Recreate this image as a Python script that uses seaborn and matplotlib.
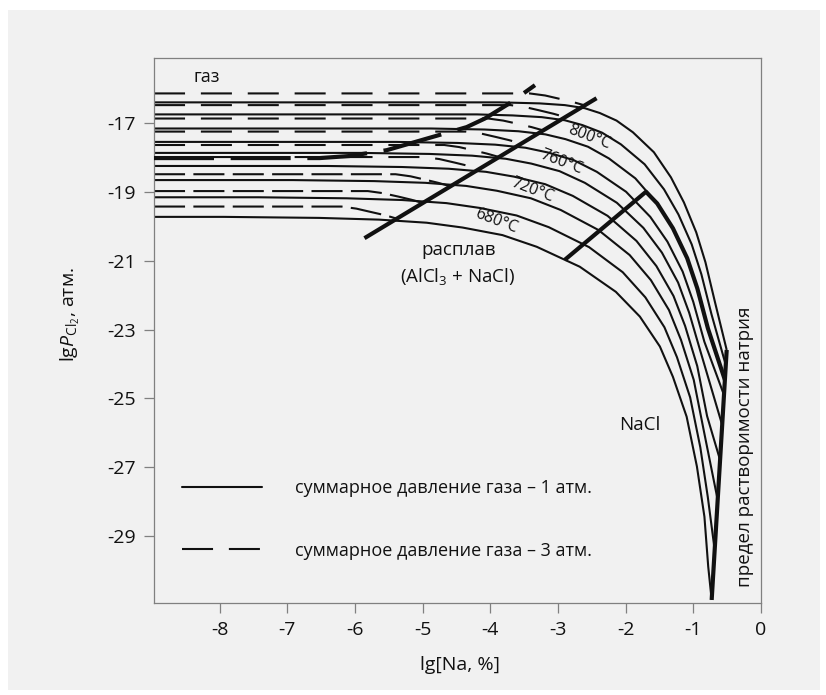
import matplotlib
matplotlib.use("Agg")
import matplotlib.pyplot as plt
import seaborn as sns
from matplotlib.lines import Line2D
from matplotlib.patches import Rectangle

sns.set_style("ticks")
plt.rcParams["font.family"] = ["Open Sans", "DejaVu Sans"]
plt.rcParams["mathtext.fontset"] = "custom"
plt.rcParams["mathtext.rm"] = "Open Sans"
plt.rcParams["mathtext.it"] = "Open Sans:italic"
plt.rcParams["axes.unicode_minus"] = False

INK = "#111111"
GRAY = "#f1f1f1"
SPINE = "#808080"

# ---------------- data ----------------
x_ticks = [-8, -7, -6, -5, -4, -3, -2, -1, 0]
y_ticks = [-17, -19, -21, -23, -25, -27, -29]

# solid curves: total gas pressure 1 atm (bottom -> top)
s0_x = [-8.97, -7.941, -6.528, -5.645, -4.941, -4.411, -3.821, -3.314, -2.678, -2.145, -1.790, -1.494, -1.302, -1.099, -0.947, -0.836, -0.780, -0.729]
s0_y = [-19.72, -19.72, -19.75, -19.80, -19.89, -20.03, -20.25, -20.59, -21.17, -21.90, -22.62, -23.49, -24.37, -25.53, -26.98, -28.44, -29.89, -30.86]
s1_x = [-8.97, -7.432, -6.121, -5.302, -4.649, -4.157, -3.611, -3.136, -2.541, -2.043, -1.709, -1.427, -1.242, -1.047, -0.897, -0.786, -0.685]
s1_y = [-19.15, -19.15, -19.18, -19.23, -19.32, -19.46, -19.68, -20.02, -20.60, -21.33, -22.06, -22.93, -23.80, -24.97, -26.42, -27.87, -29.40]
s2_x = [-8.97, -6.923, -5.714, -4.959, -4.357, -3.904, -3.400, -2.959, -2.404, -1.941, -1.627, -1.360, -1.182, -0.994, -0.847, -0.640]
s2_y = [-18.65, -18.65, -18.68, -18.73, -18.82, -18.96, -19.18, -19.52, -20.10, -20.83, -21.56, -22.43, -23.30, -24.46, -25.92, -27.95]
s3_x = [-8.97, -6.413, -5.307, -4.616, -4.065, -3.650, -3.189, -2.781, -2.267, -1.840, -1.546, -1.293, -1.122, -0.942, -0.797, -0.605]
s3_y = [-18.24, -18.24, -18.27, -18.32, -18.41, -18.55, -18.77, -19.11, -19.69, -20.42, -21.15, -22.02, -22.89, -24.06, -25.51, -26.79]
s4_x = [-8.97, -5.899, -4.897, -4.271, -3.772, -3.396, -2.978, -2.603, -2.130, -1.738, -1.464, -1.225, -1.061, -0.889, -0.574]
s4_y = [-17.86, -17.86, -17.89, -17.94, -18.03, -18.17, -18.39, -18.73, -19.31, -20.04, -20.76, -21.63, -22.51, -23.67, -25.77]
s5_x = [-8.97, -5.389, -4.490, -3.928, -3.480, -3.143, -2.768, -2.426, -1.994, -1.636, -1.383, -1.158, -1.001, -0.837, -0.547]
s5_y = [-17.54, -17.54, -17.57, -17.62, -17.71, -17.85, -18.07, -18.41, -18.99, -19.72, -20.44, -21.31, -22.19, -23.35, -24.90]
s6_x = [-8.97, -4.880, -4.083, -3.585, -3.188, -2.889, -2.557, -2.248, -1.857, -1.534, -1.302, -1.091, -0.941, -0.785, -0.534]
s6_y = [-17.15, -17.15, -17.18, -17.23, -17.32, -17.46, -17.68, -18.02, -18.60, -19.33, -20.05, -20.92, -21.80, -22.96, -24.46]
s7_x = [-8.97, -4.200, -3.670, -3.240, -2.900, -2.640, -2.350, -2.071, -1.720, -1.433, -1.220, -1.024, -0.881, -0.732, -0.520]
s7_y = [-16.74, -16.74, -16.77, -16.82, -16.91, -17.05, -17.27, -17.61, -18.19, -18.92, -19.65, -20.52, -21.39, -22.55, -24.03]
s8_x = [-8.97, -3.861, -3.269, -2.899, -2.604, -2.382, -2.135, -1.893, -1.583, -1.331, -1.139, -0.957, -0.821, -0.680, -0.507]
s8_y = [-16.39, -16.39, -16.42, -16.47, -16.56, -16.70, -16.92, -17.26, -17.84, -18.57, -19.30, -20.17, -21.04, -22.20, -23.59]

# dashed curves: total gas pressure 3 atm (bottom -> top)
d0_x = [-8.97, -6.20, -5.98, -5.76, -5.56, -5.385]
d0_y = [-19.42, -19.42, -19.48, -19.58, -19.67, -19.77]
d1_x = [-8.97, -5.81, -5.59, -5.36, -5.17, -4.99]
d1_y = [-18.97, -18.97, -19.03, -19.13, -19.22, -19.32]
d2_x = [-8.97, -5.40, -5.18, -4.96, -4.77, -4.59]
d2_y = [-18.48, -18.48, -18.54, -18.64, -18.73, -18.83]
d3_x = [-8.97, -4.98, -4.75, -4.53, -4.34, -4.16]
d3_y = [-17.98, -17.98, -18.04, -18.14, -18.23, -18.33]
d4_x = [-8.97, -4.68, -4.46, -4.24, -4.05, -3.87]
d4_y = [-17.63, -17.63, -17.69, -17.79, -17.88, -17.98]
d5_x = [-8.97, -4.36, -4.13, -3.91, -3.72, -3.54]
d5_y = [-17.24, -17.24, -17.30, -17.40, -17.49, -17.59]
d6_x = [-8.97, -4.03, -3.81, -3.58, -3.39, -3.21]
d6_y = [-16.86, -16.86, -16.92, -17.02, -17.11, -17.21]
d7_x = [-8.97, -3.70, -3.48, -3.26, -3.07, -2.89]
d7_y = [-16.47, -16.47, -16.53, -16.63, -16.72, -16.82]
d8_x = [-8.97, -3.42, -3.19, -2.97, -2.78, -2.60]
d8_y = [-16.13, -16.13, -16.19, -16.29, -16.38, -16.48]

# thick boundary lines
bndA_x = [-5.86, -2.43]
bndA_y = [-20.34, -16.27]
bndB_x = [-8.97, -6.52, -6.08, -5.53, -4.35, -4.08, -3.71, -3.34]
bndB_y = [-18.01, -18.01, -17.95, -17.78, -17.11, -16.86, -16.41, -15.89]
bndC_x = [-2.90, -1.70, -1.534, -1.302, -1.091, -0.941, -0.785, -0.534]
bndC_y = [-20.97, -18.99, -19.33, -20.05, -20.92, -21.80, -22.96, -24.46]
bndD_x = [-0.507, -0.729]
bndD_y = [-23.59, -30.86]

temp_labels = ["680°C", "720°C", "760°C", "800°C"]
temp_x = [-3.91, -3.383, -2.948, -2.53]
temp_y = [-19.86, -18.94, -18.116, -17.39]

legend_labels = ["суммарное давление газа – 1 атм.",
                 "суммарное давление газа – 3 атм."]

solid = [(s0_x, s0_y), (s1_x, s1_y), (s2_x, s2_y), (s3_x, s3_y), (s4_x, s4_y),
         (s5_x, s5_y), (s6_x, s6_y), (s7_x, s7_y), (s8_x, s8_y)]
dashed = [(d0_x, d0_y), (d1_x, d1_y), (d2_x, d2_y), (d3_x, d3_y), (d4_x, d4_y),
          (d5_x, d5_y), (d6_x, d6_y), (d7_x, d7_y), (d8_x, d8_y)]

# ---------------- figure ----------------
fig = plt.figure(figsize=(8.26, 6.95), dpi=100)
fig.patch.set_facecolor("white")
fig.patches.append(Rectangle((8 / 826, 5 / 695), 812 / 826, 680 / 695,
                             transform=fig.transFigure, facecolor=GRAY,
                             edgecolor="none", zorder=-10))
ax = fig.add_axes([154 / 826, (695 - 602.7) / 695, 607 / 826, 544.7 / 695])
ax.set_facecolor(GRAY)

THIN = 1.5
THICK = 3.0


def draw(x, y, lw, dashes=None, z=2):
    sns.lineplot(x=x, y=y, sort=False, estimator=None, color=INK,
                 linewidth=lw, ax=ax, zorder=z)
    ln = ax.lines[-1]
    if dashes is not None:
        ln.set_dashes(dashes)
    ln.set_dash_capstyle("butt")
    ln.set_solid_capstyle("butt")
    ln.set_solid_joinstyle("round")
    ln.set_dash_joinstyle("round")
    return ln


for x, y in solid:
    draw(x, y, THIN)
for i, (x, y) in enumerate(dashed):
    draw(x, y, THIN, dashes=(14.9, 4.0) if i < 3 else (14.9, 7.6))

draw(bndA_x, bndA_y, THICK, z=4)
draw(bndB_x, bndB_y, THICK, dashes=(14.4, 4.0), z=4)
draw(bndC_x, bndC_y, THICK, z=4)
draw(bndD_x, bndD_y, THICK, z=4)

for t, x, y in zip(temp_labels, temp_x, temp_y):
    ax.text(x, y, t, rotation=-21, rotation_mode="anchor", ha="center",
            va="center", fontsize=11.5, color=INK)

ax.text(-8.19, -15.645, "газ", fontsize=13, color=INK, ha="center", va="center")
ax.text(-4.467, -20.683, "расплав", fontsize=13.5, color=INK, ha="center", va="center")
ax.text(-4.49, -21.44, "(AlCl$_3$ + NaCl)", fontsize=13.5, color=INK, ha="center", va="center")
ax.text(-1.79, -25.77, "NaCl", fontsize=13.5, color=INK, ha="center", va="center")
ax.text(-0.237, -26.40, "предел растворимости натрия", fontsize=13.5, color=INK,
        rotation=90, ha="center", va="center")

# axes styling
ax.set_xlim(-8.97, 0)
ax.set_ylim(-30.94, -15.10)
ax.set_xticks(x_ticks)
ax.set_xticklabels([str(v) for v in x_ticks])
ax.set_yticks(y_ticks)
ax.set_yticklabels([str(v) for v in y_ticks])
for s in ax.spines.values():
    s.set_visible(True)
    s.set_color(SPINE)
    s.set_linewidth(0.9)
ax.tick_params(direction="out", length=7, width=0.9, color=SPINE,
               labelsize=14, labelcolor=INK, pad=6)

ax.set_xlabel("lg[Na, %]", fontsize=14, color=INK)
ax.xaxis.set_label_coords(0.504, -0.114)
ax.xaxis.label.set_va("center")
ax.set_ylabel(r"lg$P_{\mathrm{Cl}_2}$, атм.", fontsize=14, color=INK)
ax.yaxis.set_label_coords(-0.137, 0.53)
ax.yaxis.label.set_va("center")

handles = [Line2D([], [], color=INK, lw=THIN),
           Line2D([], [], color=INK, lw=THIN, dashes=(14.9, 7.6))]
leg = ax.legend(handles, legend_labels,
                loc="upper left", bbox_to_anchor=(0.0456, 0.227),
                frameon=False, fontsize=13, handlelength=4.43,
                handletextpad=1.84, labelspacing=2.47, borderpad=0,
                borderaxespad=0)
for t in leg.get_texts():
    t.set_color(INK)

fig.savefig("out.png", dpi=100, facecolor=fig.get_facecolor())
